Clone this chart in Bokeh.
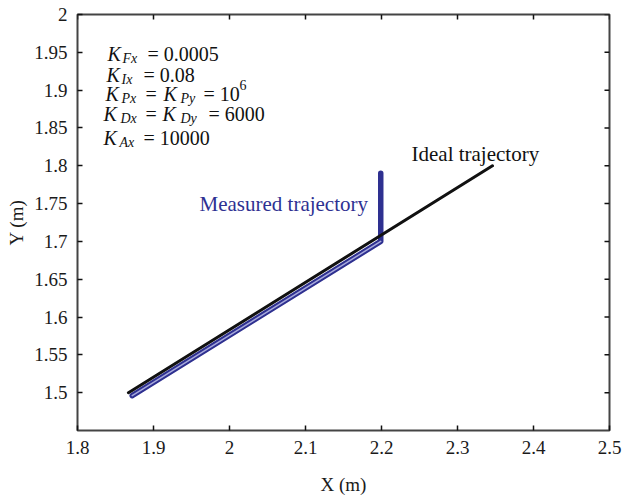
import math

from bokeh.plotting import figure
from bokeh.models import Label, Range1d, FixedTicker, NumeralTickFormatter
from bokeh.embed import file_html
from bokeh.resources import INLINE

# Trajectories in metres
ideal_x = [1.867, 2.346]
ideal_y = [1.500, 1.800]
measured_x = [1.872, 2.199, 2.199]
measured_y = [1.496, 1.700, 1.790]

x_ticks = [1.8, 1.9, 2.0, 2.1, 2.2, 2.3, 2.4, 2.5]
y_ticks = [1.5, 1.55, 1.6, 1.65, 1.7, 1.75, 1.8, 1.85, 1.9, 1.95, 2.0]

# Controller gains shown in the annotation block
gain_lines = [
    [("K", "Fx"), ("= 0.0005", None)],
    [("K", "Ix"), ("= 0.08", None)],
    [("K", "Px"), ("=", None), ("K", "Py"), ("= 10", "6")],
    [("K", "Dx"), ("=", None), ("K", "Dy"), ("= 6000", None)],
    [("K", "Ax"), ("= 10000", None)],
]

X0, X1, Y0, Y1 = 1.8, 2.5, 1.45, 2.0
FL, FR, FT, FB = 77, 609, 14, 430  # frame edges on the canvas

p = figure(width=623, height=498, x_range=Range1d(X0, X1), y_range=Range1d(Y0, Y1),
           output_backend="svg", toolbar_location=None,
           min_border_left=FL, min_border_right=623 - FR,
           min_border_top=FT, min_border_bottom=498 - FB)
p.xgrid.visible = False
p.ygrid.visible = False
p.outline_line_color = "#444444"
p.outline_line_width = 2
p.background_fill_color = "white"
p.border_fill_color = "white"

SERIF = "Liberation Serif"

p.xaxis.ticker = FixedTicker(ticks=x_ticks)
p.yaxis.ticker = FixedTicker(ticks=y_ticks)
p.xaxis.axis_label = "X (m)"
p.yaxis.axis_label = "Y (m)"

for ax in (p.xaxis[0], p.yaxis[0]):
    ax.axis_line_color = None
    ax.major_tick_in = 5
    ax.major_tick_out = 0
    ax.minor_tick_in = 0
    ax.minor_tick_out = 0
    ax.major_tick_line_color = "#111111"
    ax.major_tick_line_width = 1.5
    ax.formatter = NumeralTickFormatter(format="0.[00]")
    ax.major_label_text_font = SERIF
    ax.major_label_text_font_size = "19px"
    ax.major_label_text_color = "#1a1a1a"
    ax.major_label_standoff = 10
    ax.axis_label_text_font = SERIF
    ax.axis_label_text_font_size = "19px"
    ax.axis_label_text_font_style = "normal"
    ax.axis_label_text_color = "#1a1a1a"

p.xaxis.axis_label_standoff = 17
p.yaxis.axis_label_standoff = 4

# Inward ticks along the top and right edges of the box
p.ray(x=x_ticks, y=[Y1] * len(x_ticks), length=5, length_units="screen",
      angle=-math.pi / 2, line_color="#111111", line_width=1.5)
p.ray(x=[X1] * len(y_ticks), y=y_ticks, length=5, length_units="screen",
      angle=math.pi, line_color="#111111", line_width=1.5)


def cx(px):
    return X0 + (px - FL) * (X1 - X0) / (FR - FL)


def cy(py):
    return Y1 - (py - FT) * (Y1 - Y0) / (FB - FT)


def put(px, py, text, size, style="normal", color="#111111"):
    p.add_layout(Label(x=cx(px), y=cy(py), text=text, text_font=SERIF,
                       text_font_size=f"{size}px", text_font_style=style,
                       text_color=color, text_baseline="alphabetic",
                       text_align="left"))


# Trajectories
p.line(measured_x, measured_y, line_color="#2e3090", line_width=5.5,
       line_cap="round", line_join="round")
p.line(measured_x[:2], measured_y[:2], line_color="#a7a9dc", line_width=1.5,
       line_cap="round")
p.line(ideal_x, ideal_y, line_color="#111111", line_width=3, line_cap="round")

# Curve labels
put(199, 203, "Measured trajectory", 21, color="#2e3192")
put(411, 153, "Ideal trajectory", 21)

# Gain annotation block
starts = [
    [107, 122, 147],
    [106, 121, 143],
    [105, 121, 145, 163, 180, 203],
    [103, 120, 145, 162, 180, 208],
    [103, 119, 143],
]
baselines = [53, 74, 93, 113, 137]
for line, xs, base in zip(gain_lines, starts, baselines):
    i = 0
    for main, extra in line:
        if main == "K":
            put(xs[i], base, "K", 20, style="italic")
            put(xs[i + 1], base + 5, extra, 14, style="italic")
            i += 2
        else:
            put(xs[i], base, main, 20)
            if extra is not None:
                put(239, base - 9, extra, 14)
            i += 1

open("out.html", "w").write(file_html(p, INLINE))
